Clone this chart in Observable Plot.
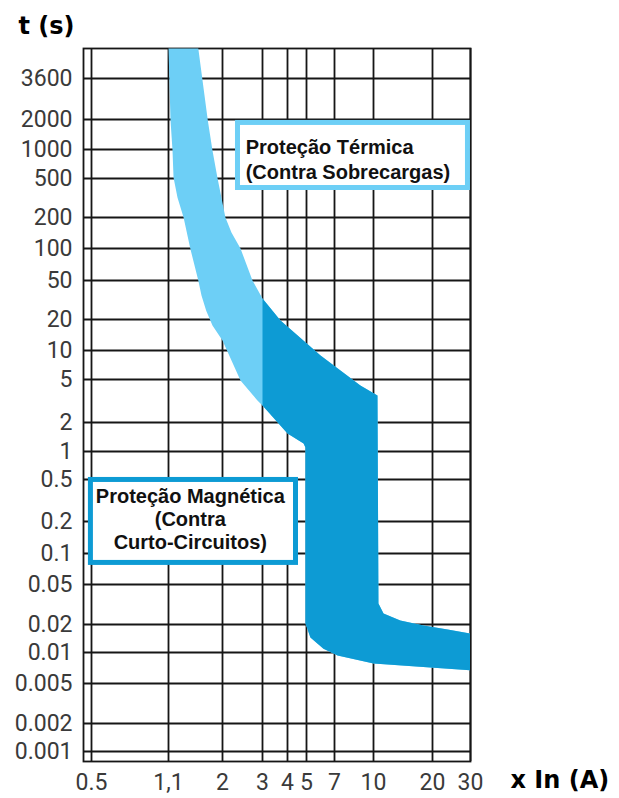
<!DOCTYPE html>
<html>
<head>
<meta charset="utf-8">
<script src="https://cdn.jsdelivr.net/npm/d3@7"></script>
<script src="https://cdn.jsdelivr.net/npm/@observablehq/plot@0.6"></script>
<style>
  html, body { margin: 0; padding: 0; background: #fff; }
  #chart svg { display: block; }
  g[aria-label="box-text"] text { letter-spacing: 0.5px; }
</style>
</head>
<body>
<div id="chart"></div>
<script>
// x: multiples of In (A); t: tripping time (s)
const xTicks = [0.5, 1.1, 2, 3, 4, 5, 7, 10, 20, 30];
const xTickLabels = ["0.5", "1,1", "2", "3", "4", "5", "7", "10", "20", "30"];
const yTicks = [3600, 2000, 1000, 500, 200, 100, 50, 20, 10, 5, 2, 1, 0.5, 0.2, 0.1, 0.05, 0.02, 0.01, 0.005, 0.002, 0.001];
const yTickLabels = ["3600", "2000", "1000", "500", "200", "100", "50", "20", "10", "5", "2", "1", "0.5", "0.2", "0.1", "0.05", "0.02", "0.01", "0.005", "0.002", "0.001"];

// lower-left boundary of the tripping band [x In, t]
const minCurve = [
  [1.1, 6000], [1.125, 1950], [1.15, 976], [1.163, 512], [1.215, 320], [1.30, 200], [1.40, 100],
  [1.53, 50], [1.585, 35.2], [1.67, 24.5], [1.79, 17.5], [2.0, 12.5], [2.4, 4.9], [2.85, 3.2], [3, 2.87],
  [4, 1.54], [4.83, 1.21], [4.94, 1.1], [4.94, 0.0205], [5.24, 0.0145],
  [6.13, 0.011], [7.2, 0.00935], [10, 0.0078], [19.5, 0.00715], [30, 0.0067]
];
// upper-right boundary of the tripping band [x In, t]
const maxCurve = [
  [1.53, 6000], [1.70, 1950], [1.79, 976], [1.89, 512], [2.06, 200], [2.19, 143], [2.4, 100],
  [2.71, 50], [3, 32.8], [3.69, 19.6], [5.92, 8.87], [8.87, 4.4], [10.48, 3.56],
  [10.6, 0.0323], [11.25, 0.0257], [13.7, 0.0219], [18.0, 0.0195], [23.5, 0.0177], [30, 0.016]
];

// annotation boxes (data coordinates)
const thermalBox = {x1: 2.34, x2: 29.2, t1: 1847, t2: 400, tx: 2.53, tt: 806,
  text: "Proteção Térmica\n(Contra Sobrecargas)"};
const magneticBox = {x1: 0.497, x2: 4.42, t1: 0.495, t2: 0.081, tx: 1.40, tt: 0.211,
  text: "Proteção Magnética\n(Contra\nCurto-Circuitos)"};

const LIGHT = "#6dcff6";
const DARK = "#0d9bd4";
const GRID = "#161616";
const TICK = "#3a3a3a";

const lightPoly = [...minCurve, ...maxCurve.slice().reverse()];
const darkPoly = [...minCurve.filter(d => d[0] >= 3), ...maxCurve.filter(d => d[0] >= 3).reverse()];

const chart = Plot.plot({
  width: 619,
  height: 798,
  marginLeft: 83,
  marginRight: 149,
  marginTop: 48,
  marginBottom: 37,
  style: {fontFamily: "Roboto, 'Open Sans', sans-serif", background: "#fff"},
  x: {type: "log", axis: null, domain: [0.46, ...xTicks], range: [83, 91, 168, 222, 262, 287, 306, 334, 373, 432, 470]},
  y: {type: "log", axis: null,
      domain: [0.0008, ...yTicks.slice().reverse(), 6000],
      range: [761, 751, 723, 683, 652, 624, 584, 553, 521, 479, 451, 422, 379, 350, 319, 280, 248, 217, 178, 149, 119, 78, 48]},
  marks: [
    Plot.gridX(xTicks, {stroke: GRID, strokeOpacity: 1, strokeWidth: 1.8}),
    Plot.gridY(yTicks, {stroke: GRID, strokeOpacity: 1, strokeWidth: 1.8}),
    Plot.frame({stroke: GRID, strokeWidth: 1.8}),
    Plot.line(lightPoly, {x: d => d[0], y: d => d[1], fill: LIGHT, stroke: "none", clip: true}),
    Plot.line(darkPoly, {x: d => d[0], y: d => d[1], fill: DARK, stroke: "none", clip: true}),
    Plot.text(xTicks, {x: d => d, text: (d, i) => xTickLabels[i], frameAnchor: "bottom", lineAnchor: "top",
      dy: 12, fontSize: 23, fill: TICK}),
    Plot.text(yTicks, {y: d => d, text: (d, i) => yTickLabels[i], frameAnchor: "left", textAnchor: "end",
      lineAnchor: "middle", dx: -11, fontSize: 23, fill: TICK}),
    Plot.rect([thermalBox], {x1: "x1", x2: "x2", y1: "t1", y2: "t2", fill: "#fff", stroke: LIGHT, strokeWidth: 5}),
    Plot.rect([magneticBox], {x1: "x1", x2: "x2", y1: "t1", y2: "t2", fill: "#fff", stroke: DARK, strokeWidth: 5}),
    Plot.text([thermalBox], {x: "tx", y: "tt", text: "text", textAnchor: "start", lineAnchor: "middle",
      lineHeight: 1.25, fontSize: 20, fontWeight: "bold", fontFamily: "'Liberation Sans', Arial, sans-serif",
      fill: "#111", ariaLabel: "box-text"}),
    Plot.text([magneticBox], {x: "tx", y: "tt", text: "text", textAnchor: "middle", lineAnchor: "middle",
      lineHeight: 1.15, fontSize: 20, fontWeight: "bold", fontFamily: "'Liberation Sans', Arial, sans-serif",
      fill: "#111", ariaLabel: "box-text"}),
    Plot.text(["t (s)"], {text: d => d, frameAnchor: "top-left", dx: -65, dy: -22, textAnchor: "start",
      lineAnchor: "middle", fontSize: 24, fontWeight: "bold", fontFamily: "'DejaVu Sans', sans-serif", fill: "#000"}),
    Plot.text(["x In (A)"], {text: d => d, frameAnchor: "bottom-right", dx: 40, dy: 19, textAnchor: "start",
      lineAnchor: "middle", fontSize: 24, fontWeight: "bold", fontFamily: "'DejaVu Sans', sans-serif", fill: "#000"})
  ]
});
document.getElementById("chart").append(chart);
</script>
</body>
</html>
